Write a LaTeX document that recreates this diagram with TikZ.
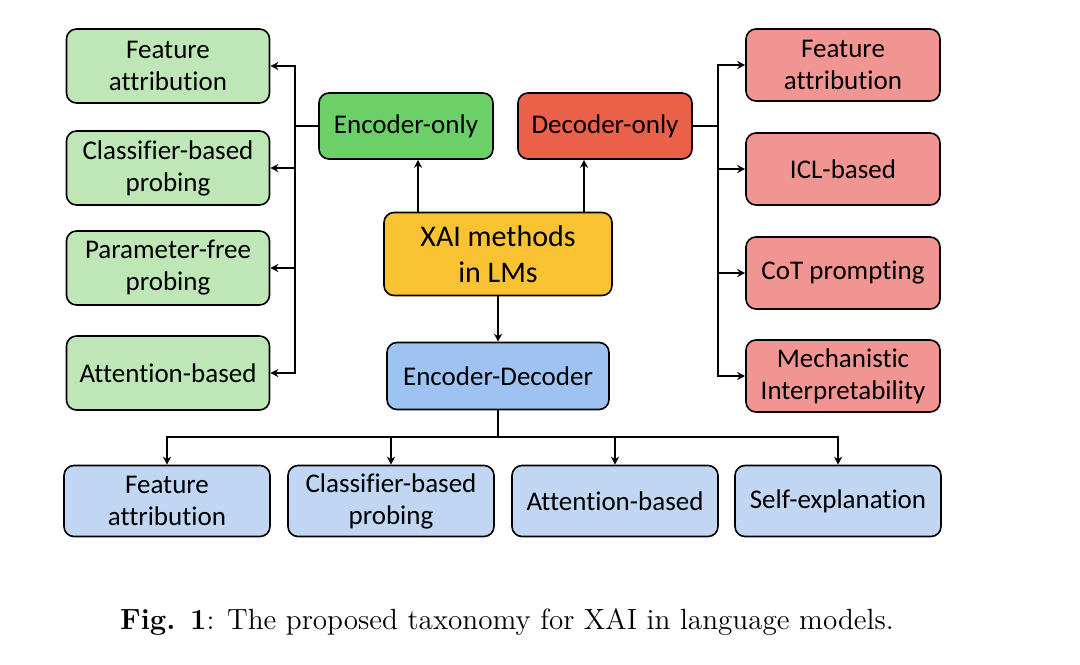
\documentclass[tikz,border=0pt]{standalone}
\usepackage{fontspec}
\usetikzlibrary{arrows.meta}
\newfontfamily\boxfont[Ligatures=NoCommon]{Carlito}

\definecolor{encgreen}{RGB}{108,208,104}
\definecolor{lightgreen}{RGB}{190,230,183}
\definecolor{decred}{RGB}{234,96,72}
\definecolor{lightred}{RGB}{241,149,147}
\definecolor{xaiyellow}{RGB}{249,194,50}
\definecolor{edblue}{RGB}{158,195,243}
\definecolor{lightblue}{RGB}{193,214,242}

\begin{document}
\begin{tikzpicture}[x=0.5pt,y=-0.5pt,
    box/.style={draw=black, line width=0.8pt, rounded corners=5pt, align=center, inner sep=0pt,
        font=\boxfont\fontsize{13.5}{16}\selectfont},
    leftbox/.style={box, fill=lightgreen, minimum width=101.5pt, minimum height=37pt},
    rightbox/.style={box, fill=lightred, minimum width=97pt, minimum height=36pt},
    lowbox/.style={box, fill=lightblue, minimum width=103pt, minimum height=35.5pt},
    line/.style={line width=1pt},
    arr/.style={line width=1pt, -{Stealth[length=4pt,width=4pt]}}]
    \useasboundingbox (0,0) rectangle (1080,664);

    % root and its three children
    \node [box, fill=xaiyellow, minimum width=114pt, minimum height=41.5pt,
        font=\boxfont\fontsize{15}{18}\selectfont] (xai) at (498,254) {XAI methods\\in LMs};
    \node [box, fill=encgreen, minimum width=87pt, minimum height=33pt] (enc) at (406,126) {Encoder-only};
    \node [box, fill=decred, minimum width=87pt, minimum height=33pt] (dec) at (605,126) {Decoder-only};
    \node [box, fill=edblue, minimum width=111pt, minimum height=33.5pt] (ed) at (498,376) {Encoder-Decoder};

    % encoder-only methods
    \node [leftbox] (lfa) at (168,66) {Feature\\attribution};
    \node [leftbox] (lcp) at (168,168) {Classifier-based\\probing};
    \node [leftbox] (lpf) at (168,268) {Parameter-free\\probing};
    \node [leftbox] (lab) at (168,373) {Attention-based};

    % decoder-only methods
    \node [rightbox] (rfa) at (843,65) {Feature\\attribution};
    \node [rightbox] (ricl) at (843,169) {ICL-based};
    \node [rightbox] (rcot) at (843,273) {CoT prompting};
    \node [rightbox] (rmi) at (843,376) {Mechanistic\\Interpretability};

    % encoder-decoder methods
    \node [lowbox] (bfa) at (167,501) {Feature\\attribution};
    \node [lowbox] (bcp) at (391,501) {Classifier-based\\probing};
    \node [lowbox] (bab) at (615,501) {Attention-based};
    \node [lowbox] (bse) at (838,501) {Self-explanation};

    % connectors
    \draw [arr] (xai.north -| 418,0) -- (enc.south -| 418,0);
    \draw [arr] (xai.north -| 584,0) -- (dec.south -| 584,0);
    \draw [arr] (xai.south) -- (ed.north);

    \coordinate (lbus) at (295,126);
    \draw [line] (enc.west) -- (lbus);
    \foreach \n in {lfa,lcp,lpf,lab}
        \draw [arr] (lbus) |- (\n.east);

    \coordinate (rbus) at (718,126);
    \draw [line] (dec.east) -- (rbus);
    \foreach \n in {rfa,ricl,rcot,rmi}
        \draw [arr] (rbus) |- (\n.west);

    \coordinate (bbus) at (498,437);
    \draw [line] (ed.south) -- (bbus);
    \foreach \n in {bfa,bcp,bab,bse}
        \draw [arr] (bbus) -| (\n.north);

    % caption
    \node [font=\fontsize{14.6}{17}\selectfont] (cap) at (507,622) {\textbf{Fig. 1}: The proposed taxonomy for XAI in language models.};
\end{tikzpicture}
\end{document}
